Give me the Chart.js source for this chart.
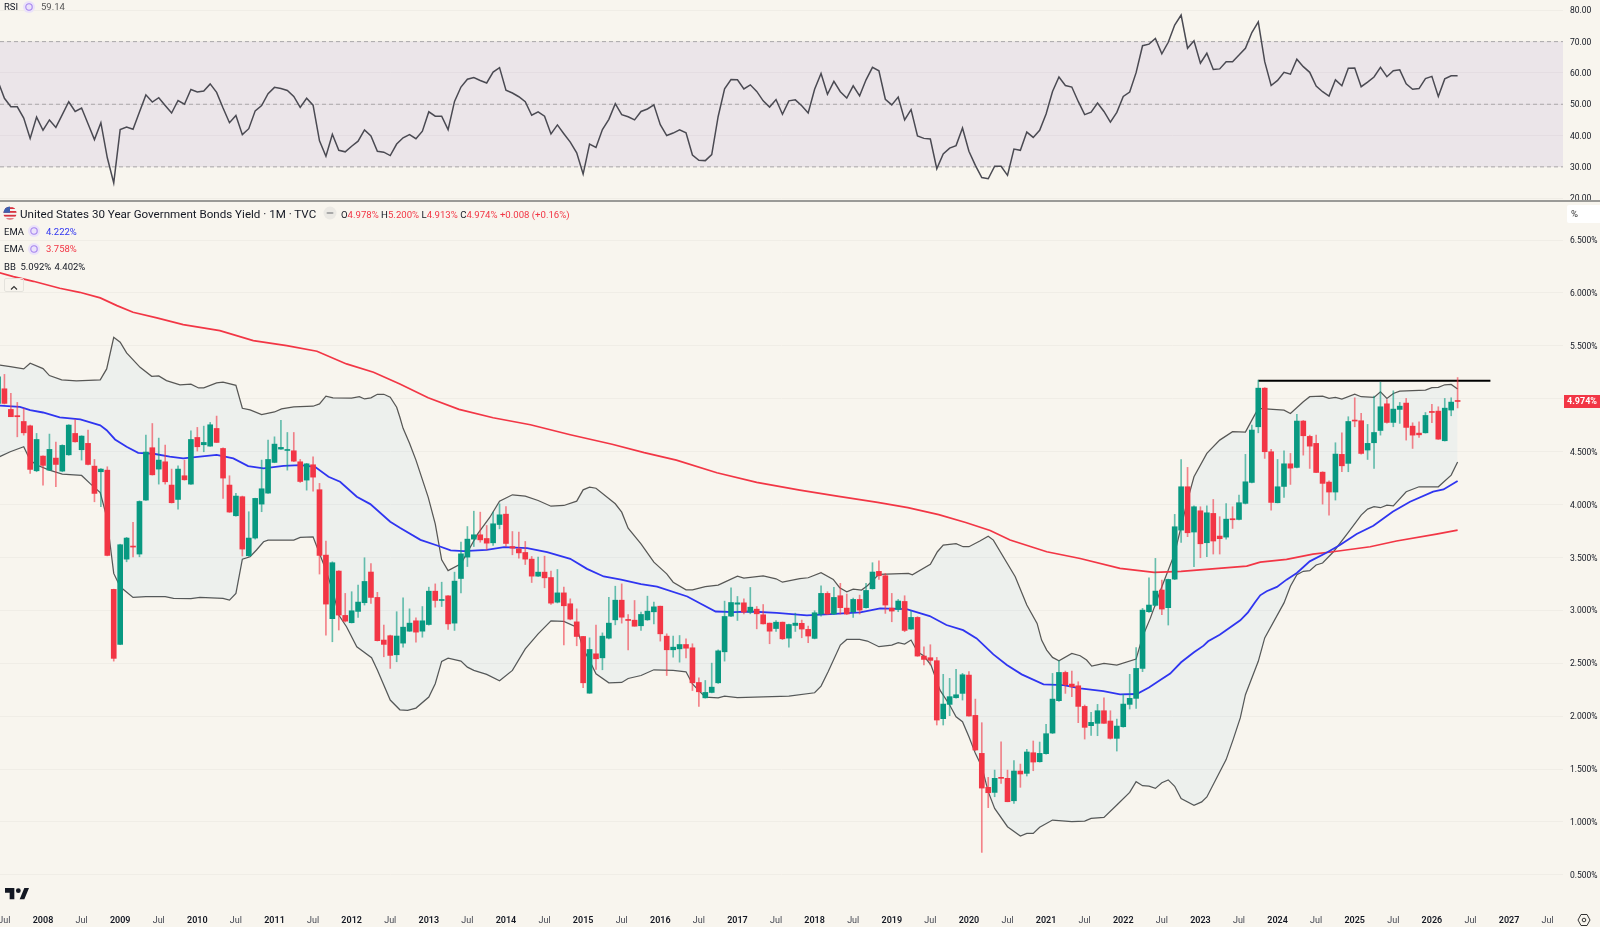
<!DOCTYPE html>
<html>
<head>
<meta charset="utf-8">
<title>US30Y</title>
<script src="https://cdn.jsdelivr.net/npm/chart.js@4/dist/chart.umd.min.js"></script>
<style>
  html, body { margin: 0; padding: 0; background: #f8f5ee; overflow: hidden; }
  #wrap { position: relative; width: 1600px; height: 927px; font-family: Roboto, sans-serif; color: #131722; }
  canvas { position: absolute; left: 0; top: 0; }
  .t { position: absolute; white-space: nowrap; font-size: 9.5px; line-height: 12px; }
  .ico { position: absolute; }
  .sep { position: absolute; left: 0; top: 200px; width: 1600px; height: 2px; background: #9a9a97; }
  #unit { position: absolute; left: 1567px; top: 205px; width: 33px; height: 18px; background: #fff; border-radius: 2px 0 0 2px; }
  #tag { position: absolute; left: 1564px; top: 395px; width: 36px; height: 13px; background: #f23645; color: #fff; font-size: 9px; font-weight: 700; line-height: 13px; text-align: center; }
  #fold { position: absolute; left: 4px; top: 278px; width: 20px; height: 14px; border: 1px solid #e4e2dc; border-radius: 2px; box-sizing: border-box; }
</style>
</head>
<body>
<div id="wrap">
  <canvas id="grafico" width="1600" height="927"></canvas>
  <div class="sep"></div>

  <div class="t" style="left:4px;top:1px">RSI</div>
  <svg class="ico" style="left:22px;top:0" width="14" height="14"><circle cx="7" cy="7" r="6" fill="#ebe2fa"/><circle cx="7" cy="7" r="3.2" fill="none" stroke="#a585ee" stroke-width="1.1"/></svg>
  <div class="t" style="left:41px;top:1px;color:#555">59.14</div>

  <svg class="ico" style="left:3px;top:206px" width="14" height="14" viewBox="0 0 14 14">
    <defs><clipPath id="flagClip"><circle cx="7" cy="7" r="6.6"/></clipPath></defs>
    <g clip-path="url(#flagClip)">
      <rect width="14" height="14" fill="#f4f4f4"/>
      <rect y="1.2" width="14" height="1.8" fill="#d8343f"/>
      <rect y="5" width="14" height="1.8" fill="#d8343f"/>
      <rect y="8.8" width="14" height="1.8" fill="#d8343f"/>
      <rect y="12.4" width="14" height="1.8" fill="#d8343f"/>
      <rect width="7" height="6.8" fill="#3f5fae"/>
    </g>
  </svg>
  <div class="t" style="left:20px;top:207px;font-size:11.6px;line-height:15px">United States 30 Year Government Bonds Yield · 1M · TVC</div>
  <svg class="ico" style="left:323px;top:206px" width="14" height="14"><circle cx="7" cy="7" r="6.5" fill="#ebe9e4"/><rect x="3.5" y="6" width="7" height="2" rx="1" fill="#a9a9a9"/></svg>
  <div class="t" style="left:341px;top:209px;font-size:9.6px">O<span style="color:#f23645">4.978%</span> H<span style="color:#f23645">5.200%</span> L<span style="color:#f23645">4.913%</span> C<span style="color:#f23645">4.974% +0.008 (+0.16%)</span></div>

  <div class="t" style="left:4px;top:226px">EMA</div>
  <svg class="ico" style="left:27px;top:224px" width="14" height="14"><circle cx="7" cy="7" r="6" fill="#ebe2fa"/><circle cx="7" cy="7" r="3.2" fill="none" stroke="#a585ee" stroke-width="1.1"/></svg>
  <div class="t" style="left:46px;top:226px;color:#2f35f0">4.222%</div>

  <div class="t" style="left:4px;top:243px">EMA</div>
  <svg class="ico" style="left:27px;top:242px" width="14" height="14"><circle cx="7" cy="7" r="6" fill="#ebe2fa"/><circle cx="7" cy="7" r="3.2" fill="none" stroke="#a585ee" stroke-width="1.1"/></svg>
  <div class="t" style="left:46px;top:243px;color:#f23645">3.758%</div>

  <div class="t" style="left:4px;top:261px">BB</div>
  <div class="t" style="left:20.5px;top:261px">5.092%</div>
  <div class="t" style="left:54.5px;top:261px">4.402%</div>

  <div id="fold"><svg width="18" height="12"><path d="M6 7.5 L9 4.5 L12 7.5" fill="none" stroke="#333" stroke-width="1.1"/></svg></div>

  <div id="unit"></div>
  <div class="t" style="left:1571px;top:208px;color:#333">%</div>
  <div id="tag">4.974%</div>

  <svg class="ico" style="left:5px;top:887px" width="24" height="14" viewBox="0 0 36 20">
    <path d="M0 1h14v17H7V8H0zM22 18L29 1h7l-7 17z" fill="#131722"/><circle cx="20" cy="5" r="3.6" fill="#131722"/>
  </svg>
  <svg class="ico" style="left:1577px;top:913px" width="14" height="14" viewBox="0 0 14 14">
    <path d="M4 1.5h6L13 7l-3 5.5H4L1 7z" fill="none" stroke="#333" stroke-width="1"/><circle cx="7" cy="7" r="1.8" fill="none" stroke="#333" stroke-width="1"/>
  </svg>
</div>

<script>
// monthly bars, index 0 = Jun 2007, last = May 2026
const opens = [
  4.956,5.094,4.899,4.84,4.785,4.744,4.319,4.458,4.325,4.439,
  4.316,4.47,4.672,4.518,4.578,4.363,4.31,4.325,3.198,2.678,
  3.484,3.604,3.532,4.042,4.537,4.335,4.404,4.184,4.048,4.272,
  4.193,4.634,4.565,4.552,4.719,4.53,4.184,3.894,4.074,3.516,
  3.683,4.004,4.108,4.398,4.524,4.511,4.508,4.404,4.231,4.376,
  4.14,3.522,2.921,3.371,2.952,2.883,2.99,3.072,3.362,3.122,
  2.719,2.76,2.58,2.69,2.803,2.901,2.803,2.866,3.181,3.093,
  3.137,2.879,3.301,3.503,3.673,3.714,3.679,3.638,3.811,3.909,
  3.603,3.581,3.547,3.484,3.323,3.361,3.31,3.077,3.165,3.062,
  2.891,2.753,2.217,2.589,2.551,2.737,2.91,3.096,2.914,2.907,
  2.854,2.91,2.986,3.039,2.756,2.627,2.636,2.677,2.646,2.318,
  2.173,2.224,2.315,2.608,2.945,3.058,3.071,2.983,3.011,2.958,
  2.879,2.828,2.888,2.737,2.857,2.877,2.82,2.735,2.965,3.16,
  2.965,3.138,3.021,2.987,3.103,3.025,3.204,3.368,3.327,3.021,
  3.009,3.084,2.823,2.933,2.568,2.552,2.524,1.976,2.111,2.174,
  2.215,2.388,2.007,1.648,1.327,1.279,1.421,1.412,1.2,1.481,
  1.459,1.654,1.569,1.645,1.84,2.146,2.413,2.303,2.287,2.092,
  1.91,1.932,2.051,1.954,1.79,1.9,2.111,2.168,2.451,2.987,
  3.047,3.192,3.025,3.295,3.758,4.168,3.74,3.941,3.639,3.916,
  3.702,3.692,3.866,3.859,4.011,4.209,4.735,5.1,4.499,4.017,
  4.171,4.385,4.351,4.789,4.644,4.578,4.306,4.212,4.118,4.474,
  4.389,4.795,4.792,4.515,4.584,4.7,4.952,4.776,4.899,4.959,
  4.741,4.675,4.678,4.88,4.883,4.603,4.893,4.978
];
const highs = [
  5.23,5.23,5.05,4.965,4.908,4.75,4.672,4.46,4.666,4.59,
  4.565,4.755,4.804,4.65,4.704,4.426,4.341,4.357,3.2,3.625,
  3.69,3.831,4.035,4.656,4.766,4.628,4.562,4.335,4.366,4.42,
  4.697,4.729,4.741,4.776,4.836,4.535,4.272,4.105,4.08,3.932,
  4.06,4.42,4.609,4.64,4.795,4.681,4.681,4.426,4.389,4.451,
  4.2,3.655,3.459,3.375,3.16,3.176,3.239,3.497,3.443,3.17,
  2.861,2.766,2.987,3.118,3.014,2.929,3.036,3.219,3.25,3.266,
  3.14,3.361,3.644,3.792,3.937,3.928,3.802,3.928,4.007,3.981,
  3.745,3.739,3.651,3.509,3.503,3.512,3.37,3.386,3.219,3.109,
  3.014,2.755,2.74,2.86,2.787,3.124,3.228,3.25,2.961,3.093,
  2.983,3.134,3.077,3.04,2.778,2.756,2.762,2.731,2.684,2.362,
  2.337,2.501,2.627,3.087,3.213,3.131,3.109,3.216,3.036,3.055,
  2.88,2.904,2.89,2.87,2.973,2.908,2.851,2.996,3.232,3.176,
  3.217,3.255,3.154,3.116,3.144,3.255,3.45,3.469,3.349,3.16,
  3.103,3.138,2.993,2.94,2.656,2.675,2.555,2.395,2.357,2.442,
  2.404,2.42,2.161,1.938,1.421,1.49,1.758,1.49,1.579,1.547,
  1.686,1.765,1.755,1.922,2.404,2.524,2.426,2.426,2.325,2.105,
  2.035,2.111,2.174,2.051,1.972,2.206,2.395,2.647,3.018,3.308,
  3.491,3.286,3.295,3.907,4.426,4.351,3.988,3.979,3.988,4.048,
  3.885,4.01,3.979,4.089,4.474,4.751,5.176,5.105,4.521,4.426,
  4.508,4.483,4.852,4.795,4.656,4.656,4.31,4.225,4.584,4.678,
  4.83,5.009,4.861,4.757,5.025,5.157,4.993,5.075,4.965,5.003,
  4.773,4.782,4.87,4.946,4.924,5.003,5.009,5.2
];
const lows = [
  4.94,4.95,4.83,4.64,4.656,4.294,4.31,4.184,4.32,4.168,
  4.31,4.465,4.59,4.42,4.375,4.026,3.979,3.515,2.52,2.675,
  3.459,3.506,3.506,4.04,4.278,4.193,4.193,4.014,3.957,4.23,
  4.19,4.505,4.499,4.55,4.585,4.058,3.925,3.89,3.513,3.51,
  3.673,3.932,4.105,4.395,4.52,4.325,4.405,4.209,4.136,4.127,
  3.343,2.766,2.703,2.814,2.89,2.88,2.933,3.05,3.065,2.71,
  2.561,2.451,2.514,2.652,2.8,2.699,2.746,2.86,3.03,3.036,
  2.819,2.81,3.165,3.414,3.603,3.644,3.572,3.613,3.77,3.603,
  3.525,3.493,3.433,3.263,3.32,3.213,3.055,3.07,2.674,2.91,
  2.665,2.268,2.215,2.441,2.438,2.73,2.863,2.879,2.627,2.85,
  2.81,2.905,2.872,2.709,2.384,2.558,2.51,2.551,2.242,2.091,
  2.17,2.22,2.31,2.52,2.94,2.904,2.967,2.967,2.825,2.87,
  2.684,2.8,2.724,2.652,2.8,2.741,2.694,2.73,2.946,2.96,
  2.96,2.965,2.96,2.933,2.965,3.02,3.2,3.292,2.971,2.892,
  2.987,2.798,2.82,2.565,2.483,2.483,1.916,1.916,2.004,2.17,
  2.152,2.0,1.673,0.712,1.135,1.238,1.364,1.19,1.176,1.327,
  1.434,1.484,1.565,1.64,1.835,2.14,2.215,2.184,1.938,1.783,
  1.818,1.815,1.93,1.783,1.67,1.895,2.067,2.073,2.42,2.98,
  3.04,2.958,2.861,3.29,3.642,3.696,3.412,3.497,3.507,3.532,
  3.532,3.673,3.774,3.855,4.005,4.205,4.678,4.436,3.947,4.015,
  4.067,4.19,4.345,4.467,4.341,4.3,4.004,3.9,4.042,4.31,
  4.31,4.735,4.477,4.426,4.341,4.656,4.77,4.735,4.767,4.609,
  4.53,4.634,4.675,4.773,4.615,4.6,4.839,4.913
];
const closes = [
  5.208,4.956,4.83,4.83,4.678,4.332,4.615,4.37,4.521,4.379,
  4.559,4.751,4.593,4.647,4.379,4.105,4.335,3.519,2.546,3.62,
  3.683,3.598,4.029,4.496,4.281,4.42,4.215,4.017,4.335,4.234,
  4.615,4.546,4.587,4.754,4.587,4.25,3.929,4.08,3.579,3.683,
  4.058,4.149,4.426,4.571,4.54,4.518,4.41,4.218,4.385,4.259,
  3.519,3.059,3.45,2.955,2.898,2.996,3.078,3.273,3.122,2.713,
  2.678,2.574,2.757,2.841,2.879,2.794,2.901,3.181,3.093,3.102,
  2.872,3.276,3.534,3.673,3.714,3.666,3.635,3.818,3.903,3.632,
  3.588,3.543,3.484,3.323,3.361,3.307,3.068,3.165,3.043,2.917,
  2.753,2.315,2.63,2.542,2.756,2.879,3.096,2.935,2.904,2.85,
  2.961,2.992,3.033,2.778,2.627,2.652,2.677,2.642,2.315,2.23,
  2.224,2.274,2.617,2.942,3.074,3.071,2.983,3.03,2.967,2.872,
  2.803,2.888,2.731,2.866,2.879,2.823,2.757,2.977,3.16,2.965,
  3.122,3.025,2.965,3.103,3.002,3.188,3.362,3.327,3.05,2.993,
  3.088,2.81,2.933,2.568,2.536,2.527,1.963,2.114,2.184,2.202,
  2.391,2.001,1.68,1.32,1.276,1.412,1.412,1.191,1.481,1.453,
  1.661,1.566,1.648,1.834,2.161,2.413,2.297,2.278,2.092,1.894,
  1.941,2.051,1.932,1.79,1.906,2.114,2.168,2.451,3.002,3.05,
  3.182,3.012,3.292,3.79,4.168,3.733,3.979,3.629,3.922,3.655,
  3.677,3.862,3.856,4.017,4.215,4.704,5.1,4.499,4.02,4.168,
  4.385,4.344,4.789,4.65,4.552,4.303,4.2,4.118,4.477,4.366,
  4.785,4.789,4.483,4.578,4.681,4.924,4.776,4.902,4.93,4.729,
  4.656,4.659,4.842,4.87,4.618,4.911,4.968,4.974
];
const rsiValues = [
  57.3,51.9,49.2,49.2,45.6,39.1,45.9,41.7,45,42.6,46.7,50.8,47.7,48.8,43.8,38.7,44.1,32.9,24.9,41.9,
  42.7,42,47.5,53,50.7,52.1,49.6,47.2,51.2,50,54.7,53.9,54.2,56.5,53.8,48.8,44.1,46.4,40.3,42.2,
  47.9,49.6,53.4,55.4,55,54.4,52.5,49,51.9,49.7,38.3,33.4,40.4,35.3,34.8,36.6,38.2,41.8,39.9,35,
  34.7,33.6,37.3,39.3,40.3,39,41.4,47.6,46.2,46.2,41.9,50.9,55.5,58,58.5,57.6,56.8,60.3,61.7,
  54.5,53.6,52.4,50.8,46.5,47.6,46.2,40.5,43.4,40.6,37.9,34.5,27.7,37.3,36.2,41.9,45.2,50.2,46.7,46,
  45,47.7,48.5,49.8,43.5,40,40.8,41.8,40.9,33.8,32.1,32,33.9,46.1,54.9,57.9,57.8,54.9,56.2,54.1,
  51.1,49.1,51.5,46.8,51.1,51.4,49.5,47.2,54.8,59.8,53.2,57.3,54,52,55.9,52.7,57.8,61.8,60.7,51.6,
  49.8,52.3,45,48.3,39.9,39.1,38.9,29.4,34.1,36,36.8,42.4,35,30.5,26.6,26.2,30.2,30.2,
  27.3,35.7,35.3,41.1,39.4,41.7,46.9,54.1,58.7,56,55.5,50.9,46.7,47.5,50.4,47.7,44.3,47.4,52.5,53.9,
  60.1,68.7,69.2,71,66.1,69.8,75.3,78.5,67.9,70.3,63.1,66.3,61.1,61.3,63.6,63.6,65.7,67.9,72.9,76.3,
  63.6,56,57.6,60.2,59.6,64.4,62,60.2,55.8,54,52.6,57.8,55.9,61.5,61.6,55.6,57.1,58.7,61.8,58.8,
  60.7,61,56.5,54.8,55,58.2,58.9,52.5,58.1,59.1,59.14
];

// indicator readings as [bar index, value]
const emaFast = [
  [0,4.937],[3.4,4.924],[5,4.892],[7,4.87],[9.6,4.823],[12.8,4.804],[15.9,4.748],[16.9,4.703],[18.2,4.615],[20,4.546],
  [21.8,4.489],[24.2,4.48],[26.7,4.452],[28.8,4.436],[31.4,4.452],[34,4.47],[36.6,4.436],[38.9,4.363],[41.3,4.341],[44.4,4.366],
  [47,4.373],[49.3,4.357],[51.4,4.262],[53.2,4.215],[55.8,4.074],[57.9,4.004],[61,3.837],[62.5,3.78],[65.7,3.666],[68.3,3.613],
  [70.4,3.566],[72.4,3.559],[76,3.572],[78.7,3.597],[82.3,3.588],[85.4,3.55],[89,3.487],[91.6,3.392],[94.2,3.32],[96.9,3.291],
  [100,3.247],[102.5,3.225],[107.2,3.131],[109.3,3.062],[111.6,2.989],[114.5,2.983],[117,2.989],[121.1,2.976],[125.8,2.952],[129.4,2.965],
  [134.1,2.98],[137.2,3.018],[141.3,3.012],[144.9,2.946],[147.5,2.861],[150.1,2.813],[152.2,2.735],[154.8,2.584],[156.9,2.483],[159.2,2.395],
  [162.6,2.3],[165.7,2.294],[168.3,2.262],[171.9,2.237],[174.5,2.206],[177.1,2.209],[179,2.27],[180.7,2.339],[182.3,2.402],[184,2.509],
  [186,2.603],[187.5,2.666],[188.2,2.707],[190,2.77],[193.2,2.906],[194.4,2.981],[195.5,3.076],[196.3,3.142],[197.3,3.18],[198.9,3.221],
  [200.4,3.29],[202,3.353],[204,3.463],[206.6,3.544],[208.7,3.617],[211.3,3.721],[213.9,3.8],[216.9,3.932],
  [219.6,4.026],[223.2,4.121],[224.8,4.143],[227,4.222]
];
const emaSlow = [
  [0,6.195],[2.4,6.154],[5.5,6.11],[9.6,6.044],[12.7,6.006],[15.9,5.953],[18.5,5.88],[21,5.817],[24.7,5.764],[28.8,5.7],
  [34.5,5.644],[39.7,5.55],[44.9,5.502],[49.6,5.449],[54.2,5.329],[58.4,5.25],[62.5,5.14],[66.9,5.01],[71.7,4.9],[77,4.82],
  [82.8,4.754],[89,4.66],[95.5,4.57],[100.5,4.49],[105.5,4.42],[111.8,4.3],[118,4.21],[124.7,4.137],[130.5,4.08],[136.8,4.02],
  [141.5,3.97],[146.3,3.904],[150.5,3.83],[154.3,3.754],[157.4,3.664],[163.1,3.554],[168.3,3.49],[174.5,3.396],
  [179.8,3.358],[184,3.368],[194.2,3.418],[196.3,3.456],[200.4,3.481],[204.5,3.532],[207.6,3.554],[213.4,3.601],[217.5,3.655],[223.7,3.721],
  [227,3.758]
];
const bbUpper = [
  [0,5.32],[1.9,5.304],[4,5.282],[5,5.335],[7,5.285],[8,5.219],[9.9,5.178],[12.2,5.168],[15.9,5.178],[16.9,5.282],
  [18,5.581],[19,5.534],[20,5.433],[22.1,5.297],[23.9,5.212],[25,5.216],[26.2,5.171],[28.3,5.131],[30,5.137],[31.2,5.102],
  [32,5.102],[34,5.149],[35,5.156],[37,5.127],[38,4.91],[39.2,4.894],[41,4.85],[43,4.875],[44.1,4.904],[46,4.923],
  [49,4.929],[50,4.951],[51,5.024],[52.1,5.008],[55,5.005],[56.2,5.02],[57,4.998],[58,5.008],[59,5.042],[60,5.042],
  [61,5.014],[62,4.92],[62.5,4.825],[63,4.72],[64,4.58],[65,4.42],[66.9,4.07],[68,3.818],[69,3.477],[70,3.376],
  [72,3.44],[74.6,3.723],[76.5,3.88],[78,4.032],[80,4.092],[82,4.079],[84,4.038],[86,3.984],[88,3.991],[90,4.032],
  [91,4.139],[92,4.164],[93,4.154],[96,4.007],[97,3.928],[98,3.777],[100,3.628],[102,3.455],[104,3.345],[105,3.266],
  [107,3.194],[108,3.194],[110,3.225],[112,3.238],[113,3.266],[115,3.323],[116,3.304],[119,3.326],[121,3.298],[122,3.266],
  [124.7,3.299],[126,3.308],[128,3.355],[129.9,3.292],[130.9,3.214],[132,3.176],[133,3.201],[134.3,3.191],[135.2,3.232],[137,3.34],
  [141.6,3.349],[142.2,3.336],[145,3.434],[146.1,3.554],[147,3.617],[149,3.63],[150.1,3.601],[151,3.601],[152.7,3.655],[154,3.7],
  [154.8,3.664],[158.2,3.318],[160,3.05],[161.6,2.876],[162.3,2.719],[163.1,2.624],[164,2.555],[165,2.524],[167,2.593],[168.3,2.571],
  [169.3,2.53],[170.1,2.473],[172,2.499],[174,2.483],[177,2.539],[178,2.75],[179.2,2.924],[181,3.223],[183,3.538],[184,3.79],
  [185,4.042],[186,4.262],[188,4.483],[190,4.609],[192,4.688],[194,4.685],[195,4.798],[196,4.908],[200,4.892],[201,4.861],
  [203,4.971],[204,5.019],[206,5.025],[207,5.003],[208,5.012],[209,4.996],[211,5.044],[212,5.019],[214,5.012],[215,5.066],
  [216,5.003],[217,5.05],[218,5.072],[222,5.082],[223,5.104],[224,5.107],[225,5.132],[226,5.135],[227,5.092]
];
const bbLower = [
  [0,4.445],[1.9,4.499],[4,4.546],[5,4.42],[6,4.373],[8,4.325],[10,4.288],[13,4.275],[14.3,4.2],[15.9,4.114],
  [16.9,3.884],[18,3.349],[19,3.223],[21,3.122],[23,3.129],[26,3.129],[27.3,3.113],[30,3.11],[31.4,3.122],[35,3.113],
  [36,3.097],[37,3.16],[38,3.484],[39.2,3.506],[40.2,3.57],[41.3,3.648],[42,3.664],[46,3.664],[47,3.689],[49,3.695],
  [50,3.538],[51,3.38],[52.1,3.176],[53,2.955],[54.2,2.845],[55.8,2.656],[58.1,2.552],[59,2.436],[61,2.152],[62.5,2.06],
  [63.7,2.054],[65,2.076],[67,2.18],[68,2.306],[69,2.517],[70,2.548],[72,2.52],[73,2.463],[74,2.432],[76,2.394],
  [78,2.334],[80,2.432],[82,2.636],[84,2.778],[86,2.901],[88,2.895],[90,2.841],[91,2.636],[92,2.526],[93,2.4],
  [95,2.315],[97,2.318],[98,2.356],[100,2.384],[102,2.438],[105,2.432],[107,2.419],[108,2.305],[110,2.18],[112,2.173],
  [113,2.189],[115,2.176],[119,2.183],[123,2.189],[127,2.221],[128,2.284],[129.1,2.42],[131,2.672],[132,2.725],[134,2.725],
  [135.2,2.71],[137,2.656],[139,2.672],[140,2.694],[141,2.681],[142,2.719],[143,2.609],[144,2.568],[145.1,2.483],[146.5,2.246],
  [148,2.105],[149,1.994],[150,1.947],[151,1.806],[152,1.648],[153,1.522],[154,1.286],[155,1.128],[157,0.955],[159,0.867],
  [160,0.892],[161,0.892],[162,0.949],[164,1.018],[167,1.002],[169,1.008],[170,1.034],[172,1.043],[174,1.16],[176,1.279],
  [177,1.38],[178,1.342],[179,1.339],[180,1.317],[181,1.371],[182,1.397],[183,1.337],[184,1.22],[186,1.157],[187.2,1.189],
  [188,1.236],[191,1.589],[192.1,1.78],[193.2,1.983],[194,2.203],[196,2.518],[197,2.739],[200,3.07],[201,3.227],[202,3.337],
  [203,3.369],[204,3.375],[205,3.429],[206,3.447],[207.7,3.554],[210,3.736],[212,3.9],[213,3.957],[214,3.979],[215,3.97],
  [216,3.995],[217,3.988],[219,4.121],[221,4.168],[224,4.168],[226,4.278],[227,4.402]
];
const resistance = [[196,5.17],[232.1,5.17]];

// Jul 2007 up to Jul 2027, one tick every six months
const tickBars = [1,7,13,19,25,31,37,43,49,55,61,67,73,79,85,91,97,103,109,115,121,127,133,139,145,151,157,163,169,175,181,187,193,199,205,211,217,223,229,235,241];
const tickNames = ["Jul","2008","Jul","2009","Jul","2010","Jul","2011","Jul","2012","Jul","2013","Jul","2014","Jul","2015","Jul","2016","Jul","2017","Jul","2018","Jul","2019","Jul","2020","Jul","2021","Jul","2022","Jul","2023","Jul","2024","Jul","2025","Jul","2026","Jul","2027","Jul"];

const RSI_LEVELS = [70, 50, 30];
const X_MIN = 0.311, X_MAX = 243.39;
const UP = "#089981", DOWN = "#f23645";
const GRID = "#f0ede6";

const pairs = (list) => list.map(([x, y]) => ({ x, y }));
const isUp = (i) => closes[i] >= opens[i];
const wickColors = closes.map((c, i) => (isUp(i) ? "rgba(8,153,129,0.6)" : "rgba(242,54,69,0.6)"));
const bodyColors = closes.map((c, i) => (isUp(i) ? UP : DOWN));

const line = (label, data, yAxisID, color, width, order, extra) =>
  Object.assign({ type: "line", label, data, yAxisID, xAxisID: "x", borderColor: color, borderWidth: width, pointRadius: 0, tension: 0, order, fill: false }, extra);

const fixPadding = (scale) => {
  scale.paddingLeft = 0;
  scale.paddingRight = 0;
  scale.paddingTop = 0;
  scale.paddingBottom = 0;
};

const datasets = [
  line("BB upper", pairs(bbUpper), "price", "#575755", 1.25, 5, { fill: { target: 1 }, backgroundColor: "rgba(33,150,243,0.05)" }),
  line("BB lower", pairs(bbLower), "price", "#575755", 1.25, 5),
  line("EMA fast", pairs(emaFast), "price", "#2f35f0", 1.8, 4),
  line("EMA slow", pairs(emaSlow), "price", "#f23645", 1.7, 4),
  line("Level", pairs(resistance), "price", "#000000", 1.8, 3),
  {
    type: "bar", label: "wicks", yAxisID: "price", xAxisID: "x", order: 2, grouped: false,
    barThickness: 1, borderWidth: 0, backgroundColor: wickColors,
    data: highs.map((h, i) => ({ x: i, y: [lows[i], h] })),
  },
  {
    type: "bar", label: "bodies", yAxisID: "price", xAxisID: "x", order: 1, grouped: false,
    barThickness: 5, borderWidth: 0, minBarLength: 1, backgroundColor: bodyColors,
    data: opens.map((o, i) => ({ x: i, y: [o, closes[i]] })),
  },
  line("RSI", rsiValues.map((v, i) => ({ x: i, y: v })), "rsi", "#4a4a52", 1.5, 1),
  line("RSI band", [{ x: X_MIN, y: 70 }, { x: X_MAX, y: 70 }], "rsi", "rgba(0,0,0,0)", 0, 6, { fill: { target: { value: 30 } }, backgroundColor: "rgba(126,87,194,0.1)" }),
].concat(RSI_LEVELS.map((lvl) =>
  line("RSI " + lvl, [{ x: X_MIN, y: lvl }, { x: X_MAX, y: lvl }], "rsi", "#a9a6a8", 1, 5, { borderDash: [4, 3] })
));

new Chart(document.getElementById("grafico"), {
  data: { datasets },
  options: {
    responsive: false,
    animation: false,
    devicePixelRatio: 1,
    layout: { padding: 0 },
    plugins: { legend: { display: false }, tooltip: { enabled: false }, title: { display: false } },
    scales: {
      x: {
        type: "linear",
        offset: false,
        min: X_MIN,
        max: X_MAX,
        grid: { display: false, drawTicks: false, offset: false },
        border: { display: false },
        afterBuildTicks: (scale) => { scale.ticks = tickBars.map((value) => ({ value })); },
        afterFit: (scale) => { scale.height = 18; fixPadding(scale); },
        ticks: {
          autoSkip: false,
          maxRotation: 0,
          padding: 6,
          color: (c) => (c.index % 2 ? "#131722" : "#434651"),
          font: (c) => ({ family: "Roboto", size: 9, weight: c.index % 2 ? "600" : "400" }),
          callback: (v, i) => tickNames[i],
        },
      },
      rsi: {
        axis: "y",
        type: "linear",
        position: "right",
        stack: "panes",
        stackWeight: 201,
        min: 19.1,
        max: 83.3,
        grid: { color: GRID, drawTicks: false },
        border: { display: false },
        afterFit: (scale) => { scale.width = 37; fixPadding(scale); },
        ticks: {
          stepSize: 10,
          includeBounds: false,
          padding: 7,
          labelOffset: 1,
          crossAlign: "near",
          color: "#131722",
          font: { family: "Roboto", size: 8.5 },
          callback: (v) => v.toFixed(2),
        },
      },
      price: {
        axis: "y",
        type: "linear",
        position: "right",
        stack: "panes",
        stackWeight: 708,
        min: 0.177,
        max: 6.869,
        grid: { color: GRID, drawTicks: false },
        border: { display: false },
        afterFit: (scale) => { scale.width = 37; fixPadding(scale); },
        ticks: {
          stepSize: 0.5,
          includeBounds: false,
          padding: 7,
          labelOffset: 1,
          crossAlign: "near",
          color: "#131722",
          font: { family: "Roboto", size: 8.5 },
          callback: (v) => v.toFixed(3) + "%",
        },
      },
    },
  },
});
</script>
</body>
</html>
